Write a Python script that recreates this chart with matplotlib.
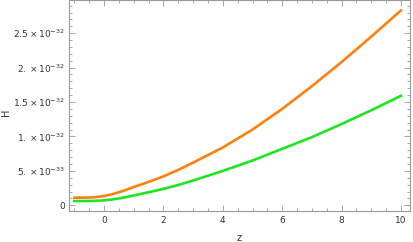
import matplotlib.pyplot as plt
from matplotlib.ticker import MultipleLocator

# values (H in units of 1e-32)
z = [-1, -0.5, -0.25, 0, 0.25, 0.5, 0.75, 1, 1.5, 2, 2.5, 3, 4, 5, 6, 7, 8, 9, 10]
H_orange = [0.11, 0.113, 0.12, 0.135, 0.158, 0.19, 0.225, 0.265, 0.34, 0.42,
            0.515, 0.62, 0.84, 1.10, 1.40, 1.73, 2.08, 2.45, 2.83]
H_green = [0.062, 0.063, 0.066, 0.072, 0.084, 0.10, 0.12, 0.143, 0.19, 0.238,
           0.295, 0.36, 0.50, 0.65, 0.82, 0.99, 1.18, 1.38, 1.59]

ytick_vals = [0, 0.5e-32, 1e-32, 1.5e-32, 2e-32, 2.5e-32]
ytick_labels = ['0', r'$5.\times10^{-33}$', r'$1.\times10^{-32}$',
                r'$1.5\times10^{-32}$', r'$2.\times10^{-32}$', r'$2.5\times10^{-32}$']

fig = plt.figure(figsize=(4.14, 2.42), dpi=100)
ax = fig.add_axes([0.1667, 0.128, 0.8233, 0.87])

ax.plot(z, [v * 1e-32 for v in H_orange], color='#ff7f0e', lw=1.9)
ax.plot(z, [v * 1e-32 for v in H_green], color='#1ee61e', lw=1.9)

ax.set_xlim(-1.18, 10.3)
ax.set_ylim(-0.083e-32, 2.975e-32)
ax.set_xticks([0, 2, 4, 6, 8, 10])
ax.xaxis.set_minor_locator(MultipleLocator(0.5))
ax.set_yticks(ytick_vals)
ax.set_yticklabels(ytick_labels)
ax.yaxis.set_minor_locator(MultipleLocator(0.1e-32))

ax.tick_params(which='both', direction='in', top=True, right=True,
               color='#999999', labelsize=6.5, labelcolor='#333333', width=0.6)
ax.tick_params(which='major', length=4)
ax.tick_params(which='minor', length=2)
ax.tick_params(axis='y', which='both', pad=3)
for s in ax.spines.values():
    s.set_color('#999999')
    s.set_linewidth(0.8)

ax.set_xlabel('z', fontsize=7, color='#333333')
ax.set_ylabel('H', fontsize=7, color='#333333')
ax.xaxis.set_label_coords(0.5, -0.105)
ax.yaxis.set_label_coords(-0.17, 0.47)

fig.savefig('out.png', dpi=100)
